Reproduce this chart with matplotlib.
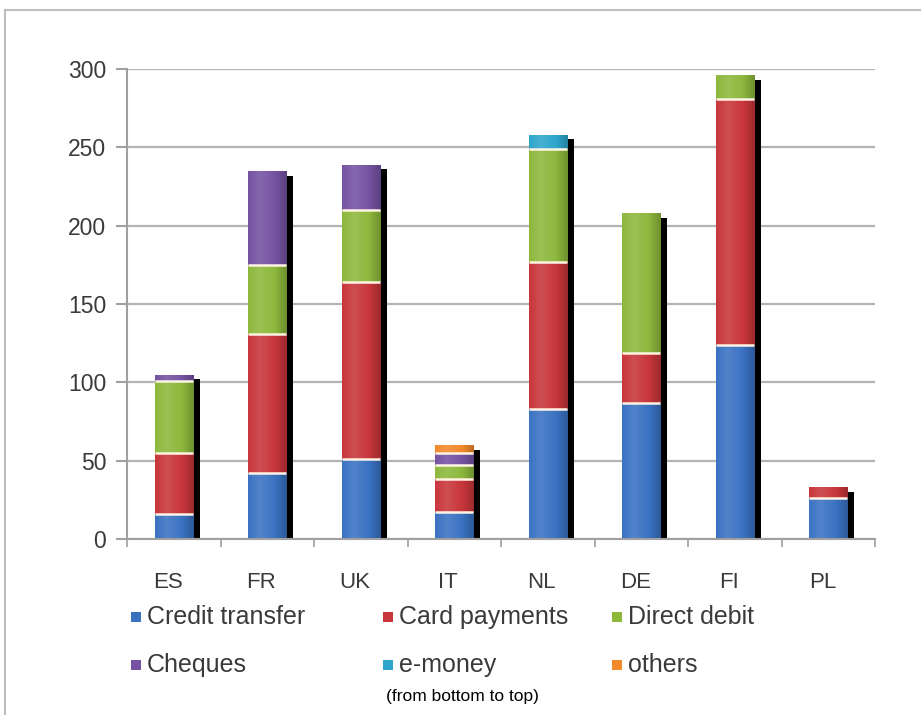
import matplotlib.pyplot as plt
from matplotlib.patches import Rectangle
from matplotlib.colors import LinearSegmentedColormap, to_rgb
from matplotlib.transforms import ScaledTranslation
import numpy as np

# payments per capita by instrument, stacked from bottom to top
countries = ['ES', 'FR', 'UK', 'IT', 'NL', 'DE', 'FI', 'PL']
credit_transfer = [16, 42, 51, 17, 83, 87, 124, 26]
card_payments = [39, 89, 113, 21, 94, 32, 157, 7]
direct_debit = [46, 44, 46, 9, 72, 89, 15, 0]
cheques = [4, 60, 29, 8, 0, 0, 0, 0]
e_money = [0, 0, 0, 0, 9, 0, 0, 0]
others = [0, 0, 0, 5, 0, 0, 0, 0]

series = [credit_transfer, card_payments, direct_debit, cheques, e_money, others]
names = ['Credit transfer', 'Card payments', 'Direct debit', 'Cheques', 'e-money', 'others']
colors = ['#3a72c2', '#c8363b', '#8db83c', '#7553a3', '#2ea6cc', '#f28a2b']

plt.rcParams['font.family'] = ['Liberation Sans', 'DejaVu Sans']
txt_col = '#3a3a3a'


def shade(c, f):
    r = np.array(to_rgb(c))
    if f > 0:
        return tuple(r + (1 - r) * f)
    return tuple(r * (1 + f))


fig = plt.figure(figsize=(9.21, 7.15), dpi=100)
ax = fig.add_axes([127 / 921, 176 / 715, 748 / 921, 470 / 715])

x = np.arange(len(countries))
width = 0.41
data = np.array(series, dtype=float)
totals = data.sum(axis=0)

# drop shadow behind each stack
ax.bar(x + 0.075, totals - 3, width=width, color='black', zorder=1)

bottom = np.zeros(len(countries))
grad = np.linspace(0, 1, 64).reshape(1, -1)
for k, (vals, col) in enumerate(zip(data, colors)):
    cmap = LinearSegmentedColormap.from_list(
        'c%d' % k, [(0, shade(col, 0.0)), (0.3, shade(col, 0.12)),
                    (0.7, shade(col, 0.0)), (1, shade(col, -0.22))])
    bars = ax.bar(x, vals, width=width, bottom=bottom, color=col,
                  linewidth=0, zorder=2)
    for rect in bars:
        if rect.get_height() <= 0:
            continue
        x0, y0 = rect.get_x(), rect.get_y()
        im = ax.imshow(grad, extent=[x0, x0 + rect.get_width(), y0,
                                     y0 + rect.get_height()],
                       aspect='auto', cmap=cmap, zorder=2.5,
                       interpolation='bilinear')
        im.set_clip_path(rect)
    bottom += vals
    # thin light gap on top of a segment that has another one above it
    above = data[k + 1:].sum(axis=0)
    for j in range(len(countries)):
        if vals[j] > 0 and above[j] > 0:
            ax.hlines(bottom[j], x[j] - width / 2, x[j] + width / 2,
                      color='#fff4e4', linewidth=1.8, zorder=3)

ax.set_xlim(-0.5, len(countries) - 0.5)
ax.set_ylim(0, 300)
ax.set_yticks(np.arange(0, 301, 50))
ax.set_xticks(x)
ax.set_xticks(np.arange(-0.5, len(countries)), minor=True)
ax.tick_params(axis='x', which='major', length=0, pad=24)
ax.tick_params(axis='x', which='minor', length=6, color='#a0a0a0', width=1.2)
ax.tick_params(axis='y', length=8, color='#a0a0a0', width=1.5, pad=7,
               labelsize=16.5, labelcolor=txt_col)
ax.set_xticklabels(countries, fontsize=16, color=txt_col)
# country names sit a little left of the bar centres
shift = ScaledTranslation(-6 / 100, 0, fig.dpi_scale_trans)
for lab in ax.xaxis.get_majorticklabels():
    lab.set_transform(lab.get_transform() + shift)
ax.grid(axis='y', color='#b4b4b4', linewidth=1.6, zorder=0)
ax.set_axisbelow(True)
for s in ['top', 'right']:
    ax.spines[s].set_visible(False)
for s in ['left', 'bottom']:
    ax.spines[s].set_color('#a0a0a0')
    ax.spines[s].set_linewidth(1.5)

# legend, three entries per row
leg_x = [131, 383, 612]
leg_y = [617, 665]
for i, (name, col) in enumerate(zip(names, colors)):
    lx, ly = leg_x[i % 3], leg_y[i // 3]
    fig.patches.append(Rectangle((lx / 921, 1 - (ly + 5) / 715), 10 / 921,
                                 10 / 715, transform=fig.transFigure,
                                 facecolor=col, edgecolor='none'))
    fig.text((lx + 16) / 921, 1 - ly / 715, name, fontsize=18,
             color=txt_col, va='center', ha='left')

fig.text(462 / 921, 1 - 697 / 715, '(from bottom to top)', ha='center',
         va='center', fontsize=12.5, color='black')

# outer frame of the figure
fig.patches.append(Rectangle((5 / 921, -0.1), 1.2, 1.1 - 10 / 715,
                             transform=fig.transFigure, fill=False,
                             edgecolor='#bdbdbd', linewidth=1.5))

fig.savefig('out.png', dpi=100, facecolor='white')
